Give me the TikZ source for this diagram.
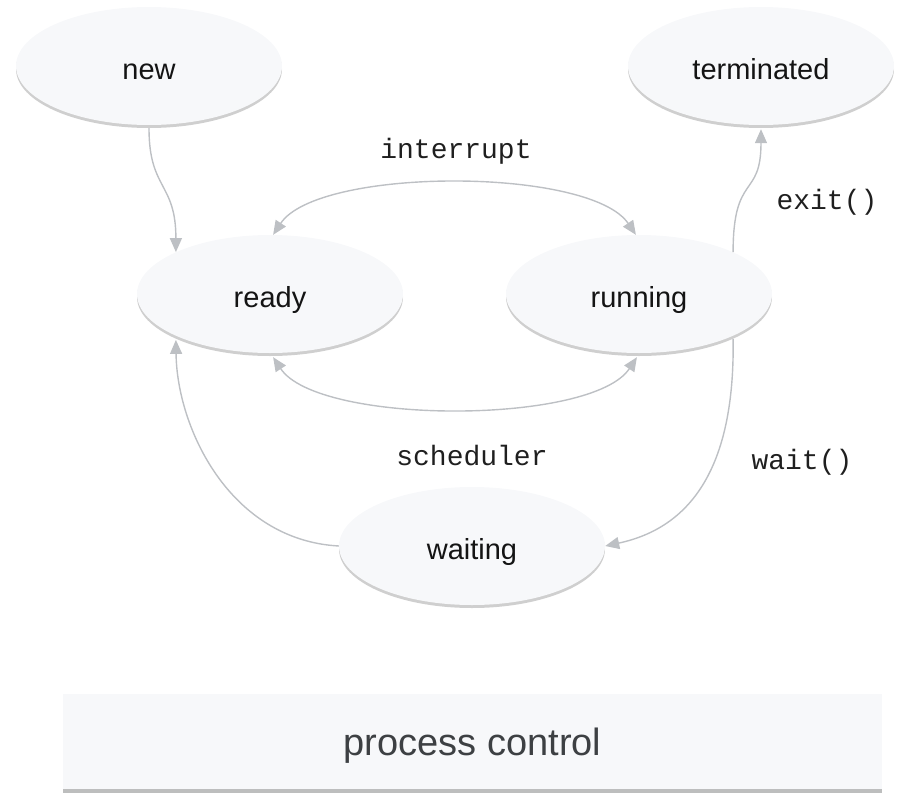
\documentclass[tikz,border=0pt]{standalone}
\usepackage{fontspec}
\setmainfont{Liberation Sans}
\setmonofont{Liberation Mono}
\usetikzlibrary{arrows.meta,shapes.geometric,shadows}
\definecolor{nodefill}{HTML}{F7F8FA}
\definecolor{nodeshade}{HTML}{CFCFCF}
\definecolor{edgecol}{HTML}{BDC0C4}
\definecolor{titletext}{HTML}{3D4043}
\definecolor{boxshade}{HTML}{BDBEBE}

\begin{document}
\begin{tikzpicture}[x=1pt,y=-1pt,
  state/.style={ellipse, fill=nodefill, minimum width=266pt, minimum height=118pt,
    inner sep=0pt, text height=26pt, text depth=0pt,
    font=\fontsize{29}{34}\selectfont, text=black!92,
    drop shadow={shadow xshift=0pt, shadow yshift=-3pt, fill=nodeshade, opacity=1}},
  titlebox/.style={rectangle, fill=nodefill, minimum width=819pt, minimum height=95pt,
    inner sep=0pt, text height=27pt, text depth=0pt,
    font=\fontsize{38}{44}\selectfont, text=titletext,
    drop shadow={shadow xshift=0pt, shadow yshift=-4pt, fill=boxshade, opacity=1}},
  conn/.style={draw=edgecol, line width=1.4pt, -{Triangle[length=14pt,width=12pt]}},
  biconn/.style={draw=edgecol, line width=1.4pt,
    {Triangle[length=14pt,width=12pt]}-{Triangle[length=14pt,width=12pt]}},
  lbl/.style={font=\ttfamily\fontsize{28}{32}\selectfont, text=black!88,
    anchor=base, inner sep=0pt}]

\useasboundingbox (0,0) rectangle (903,795);

% states
\node[state] (new)        at (149,66)  {new};
\node[state] (terminated) at (761,66)  {terminated};
\node[state] (ready)      at (270,294) {ready};
\node[state] (running)    at (639,294) {running};
\node[state] (waiting)    at (472,546) {waiting};

% legend box
\node[titlebox] (title) at (472.5,741.5) {process control};

% transitions
\draw[conn] ([yshift=-3pt]new.south) .. controls +(0,62) and +(0,-70) .. (ready.156);
\draw[biconn] (ready.87) .. controls +(45,-68) and +(-46,-68) .. (running.93);
\draw[biconn] ([yshift=-4pt]ready.273) .. controls +(45,68) and +(-45,68) .. ([yshift=-4pt]running.268);
\draw[conn] (waiting.west) .. controls +(-109,-6) and +(1,88) .. ([yshift=-4pt]ready.204);
\draw[conn] ([yshift=-3pt]running.336) .. controls +(2,131) and +(84,-18) .. (waiting.east);
\draw[conn] (running.24) .. controls +(0,-80) and +(0,70) .. ([yshift=-4pt]terminated.south);

% transition labels
\node[lbl] (linterrupt) at (456,158) {interrupt};
\node[lbl] (lscheduler) at (472,465) {scheduler};
\node[lbl] (lexit)      at (827,209) {exit()};
\node[lbl] (lwait)      at (802,469) {wait()};
\end{tikzpicture}
\end{document}
